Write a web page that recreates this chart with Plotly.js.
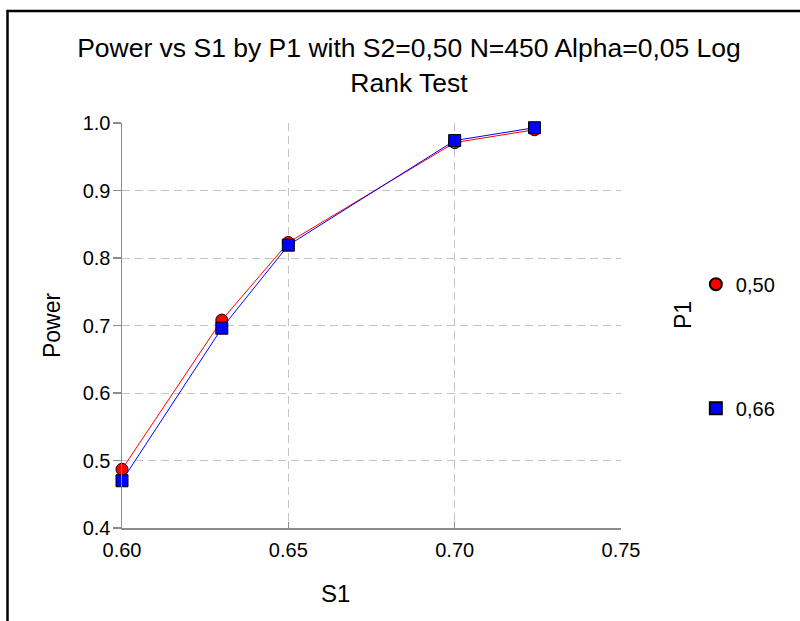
<!DOCTYPE html>
<html>
<head>
<meta charset="utf-8">
<script src="https://cdn.plot.ly/plotly-3.0.1.min.js"></script>
<style>html,body{margin:0;padding:0;background:#fff;}#chart{width:800px;height:621px;}</style>
</head>
<body>
<div id="chart"></div>
<script>
const s1Values = [0.60, 0.63, 0.65, 0.70, 0.724];
const powerP1_050 = [0.487, 0.708, 0.823, 0.971, 0.990];
const powerP1_066 = [0.470, 0.696, 0.819, 0.974, 0.993];
const seriesNames = ["0,50", "0,66"];
const seriesColors = ["#ff0000", "#0000ff"];
const seriesSymbols = ["circle", "square"];
const xTicks = [0.60, 0.65, 0.70, 0.75];
const xTickLabels = ["0.60", "0.65", "0.70", "0.75"];
const yTicks = [0.4, 0.5, 0.6, 0.7, 0.8, 0.9, 1.0];
const yTickLabels = ["0.4", "0.5", "0.6", "0.7", "0.8", "0.9", "1.0"];

const FONT = "Liberation Sans, Arial, sans-serif";
const seriesValues = [powerP1_050, powerP1_066];

const traces = [];
seriesValues.forEach(function (vals, i) {
  traces.push({
    x: s1Values, y: vals, name: seriesNames[i], type: "scatter", mode: "lines+markers",
    showlegend: false, legendgroup: "g" + i,
    line: {color: seriesColors[i], width: 1},
    marker: {symbol: seriesSymbols[i], size: 12, color: seriesColors[i], line: {color: "#000000", width: 1}},
    cliponaxis: false
  });
});
// legend entries (marker only, like the reference)
seriesValues.forEach(function (vals, i) {
  traces.push({
    x: [null], y: [null], name: seriesNames[i], type: "scatter", mode: "markers",
    showlegend: true, legendgroup: "g" + i,
    marker: {symbol: seriesSymbols[i], size: 12, color: seriesColors[i], line: {color: "#000000", width: 1}}
  });
});

const layout = {
  width: 800, height: 621,
  margin: {l: 122, r: 179, t: 123, b: 93, pad: 0},
  paper_bgcolor: "#ffffff", plot_bgcolor: "#ffffff",
  font: {family: FONT, color: "#000000"},
  showlegend: true,
  title: {
    text: "Power vs S1 by P1 with S2=0,50 N=450 Alpha=0,05 Log<br>Rank Test",
    font: {family: FONT, size: 26.5, color: "#000000"},
    x: (409 - 122) / 499, xref: "paper", xanchor: "center",
    y: 0.908, yref: "container", yanchor: "top"
  },
  xaxis: {
    range: [0.60, 0.75], tickvals: xTicks, ticktext: xTickLabels,
    showgrid: true, gridcolor: "#c4c4c4", griddash: "8px,5px", gridwidth: 1,
    showline: true, linecolor: "#8c8c8c", linewidth: 1.5,
    ticks: "inside", ticklen: 6, tickcolor: "#8c8c8c", tickwidth: 1.5,
    ticklabelstandoff: 3,
    tickfont: {family: FONT, size: 20, color: "#000000"},
    zeroline: false, fixedrange: true
  },
  yaxis: {
    range: [0.4, 1.0], tickvals: yTicks, ticktext: yTickLabels,
    showgrid: true, gridcolor: "#c4c4c4", griddash: "8px,5px", gridwidth: 1,
    showline: true, linecolor: "#8c8c8c", linewidth: 1.5,
    ticks: "outside", ticklen: 8, tickcolor: "#8c8c8c", tickwidth: 1.5,
    ticklabelstandoff: -2,
    tickfont: {family: FONT, size: 20, color: "#000000"},
    title: {text: "Power", font: {family: FONT, size: 23, color: "#000000"}, standoff: 15},
    zeroline: false, fixedrange: true
  },
  legend: {
    x: 1.15, xanchor: "left", y: 0.65, yanchor: "top",
    traceorder: "grouped", tracegroupgap: 95,
    font: {family: FONT, size: 20, color: "#000000"},
    bgcolor: "rgba(0,0,0,0)", borderwidth: 0, itemsizing: "constant"
  },
  annotations: [
    {text: "S1", xref: "paper", yref: "paper", x: (335 - 122) / 499, y: -(593 - 528) / 405,
     xanchor: "center", yanchor: "middle", showarrow: false,
     font: {family: FONT, size: 24, color: "#000000"}},
    {text: "P1", xref: "paper", yref: "paper", x: (683 - 122) / 499, y: (528 - 315) / 405,
     xanchor: "center", yanchor: "middle", showarrow: false, textangle: -90,
     font: {family: FONT, size: 23, color: "#000000"}}
  ],
  shapes: [
    {type: "rect", xref: "paper", yref: "paper",
     x0: (7.5 - 122) / 499, x1: 1.6, y0: -0.5, y1: (528 - 11) / 405,
     line: {color: "#000000", width: 2.5}, fillcolor: "rgba(0,0,0,0)", layer: "below"}
  ]
};

Plotly.newPlot("chart", traces, layout, {displayModeBar: false, staticPlot: true});
</script>
</body>
</html>
